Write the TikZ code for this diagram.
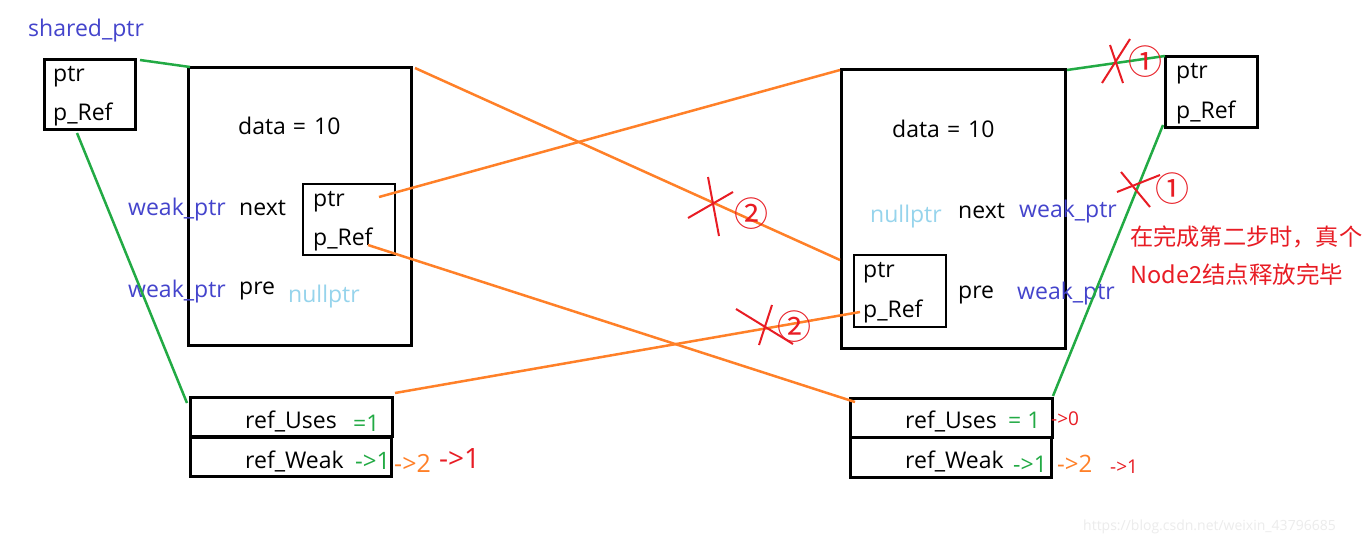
\documentclass[tikz,border=0pt]{standalone}
\usepackage{fontspec}
\setmainfont{Open Sans}
\newfontfamily\cjk{Noto Sans CJK SC}
\definecolor{wblue}{RGB}{68,68,204}
\definecolor{nblue}{RGB}{150,212,236}
\definecolor{lgreen}{RGB}{34,170,68}
\definecolor{lorange}{RGB}{255,128,40}
\definecolor{lred}{RGB}{232,28,36}
\definecolor{wmark}{RGB}{236,236,236}
\begin{document}
\begin{tikzpicture}[x=1pt,y=-1pt,
  box/.style={draw=black,line width=3pt,inner sep=0,fill=none},
  ibox/.style={draw=black,line width=2.5pt,inner sep=0},
  lbl/.style={inner sep=0,anchor=base west,font=\fontsize{23}{27}\selectfont},
  wp/.style={lbl,text=wblue},
  np/.style={lbl,text=nblue},
  gline/.style={draw=lgreen,line width=2.5pt},
  oline/.style={draw=lorange,line width=2.5pt},
  xmark/.style={draw=lred,line width=2pt},
  circ/.style={inner sep=0,anchor=center,text=lred,font=\cjk\fontsize{34}{38}\selectfont}]
\useasboundingbox[fill=white] (0,0) rectangle (1364,544);

% boxes
\node[box,minimum width=91pt,minimum height=70pt] (lsp) at (90,94.5) {};
\node[box,minimum width=223pt,minimum height=278pt] (n1) at (300,206.5) {};
\node[ibox,minimum width=92pt,minimum height=71pt] (n1in) at (349,219.5) {};
\node[box,minimum width=202pt,minimum height=39.5pt] (lref1) at (291.5,417.2) {};
\node[box,minimum width=201pt,minimum height=39.5pt] (lref2) at (291,456.8) {};
\node[box,minimum width=224pt,minimum height=279pt] (n2) at (953,208.5) {};
\node[ibox,minimum width=92pt,minimum height=72pt] (n2in) at (900,291) {};
\node[box,minimum width=92pt,minimum height=71pt] (rsp) at (1211.5,92) {};
\node[box,minimum width=202pt,minimum height=39pt] (rref1) at (951.5,418) {};
\node[box,minimum width=201pt,minimum height=40pt] (rref2) at (951,457.5) {};

% texts left
\node[wp] (tsp) at (28,36) {shared\_ptr};
\node[lbl] (lspa) at (53,81) {ptr};
\node[lbl] (lspb) at (53,120) {p\_Ref};
\node[lbl] (d1) at (238,134) {data\hspace{7pt}=\hspace{8pt}10};
\node[wp] (w1a) at (128,215) {weak\_ptr};
\node[lbl] (nx1) at (239,215) {next};
\node[lbl] (n1a) at (313,206) {ptr};
\node[lbl] (n1b) at (313,245) {p\_Ref};
\node[wp] (w1b) at (128,297) {weak\_ptr};
\node[lbl] (pr1) at (239,294) {pre};
\node[np] (nl1) at (288,302) {nullptr};
\node[lbl] (u1) at (245,428) {ref\_Uses};
\node[lbl,text=lgreen] (u1v) at (353,431) {=1};
\node[lbl] (wk1) at (245,468) {ref\_Weak};
\node[lbl,text=lgreen,font=\fontsize{24}{28}\selectfont] (wk1a) at (355,469) {->1};
\node[lbl,text=lorange,font=\fontsize{25}{28}\selectfont] (wk1b) at (394,472) {->2};
\node[lbl,text=lred,font=\fontsize{28}{32}\selectfont] (wk1c) at (439,468) {->1};

% texts right
\node[lbl] (d2) at (892,137) {data\hspace{7pt}=\hspace{8pt}10};
\node[np] (nl2) at (870,222) {nullptr};
\node[lbl] (nx2) at (958,218) {next};
\node[wp] (w2a) at (1019,217) {weak\_ptr};
\node[lbl] (n2a) at (863,277) {ptr};
\node[lbl] (n2b) at (863,317) {p\_Ref};
\node[lbl] (pr2) at (958,298) {pre};
\node[wp] (w2b) at (1017,299) {weak\_ptr};
\node[lbl] (rspa) at (1176,78) {ptr};
\node[lbl] (rspb) at (1176,118) {p\_Ref};
\node[lbl] (u2) at (905,428) {ref\_Uses};
\node[lbl,text=lgreen] (u2v) at (1008,428) {= 1};
\node[lbl,text=lred,font=\fontsize{19}{22}\selectfont] (u2w) at (1051,425) {->0};
\node[lbl] (wk2) at (905,468) {ref\_Weak};
\node[lbl,text=lgreen] (wk2a) at (1013,472) {->1};
\node[lbl,text=lorange,font=\fontsize{24}{27}\selectfont] (wk2b) at (1057,472) {->2};
\node[lbl,text=lred,font=\fontsize{19}{22}\selectfont] (wk2c) at (1110,473) {->1};

\node[lbl,text=lred,font=\cjk\fontsize{23.2}{28}\selectfont] (cn1) at (1130,245) {在完成第二步时，真个};
\node[lbl,text=lred,font=\cjk\fontsize{23.5}{28}\selectfont] (cn2) at (1130,283) {Node2结点释放完毕};

\node[inner sep=0,anchor=base west,text=wmark,font=\fontsize{14}{16}\selectfont] (wm) at (1083,530) {https://blog.csdn.net/weixin\_43796685};

% connector end points
\coordinate (ga1) at (140,60);  \coordinate (gb1) at (190,67);
\coordinate (ga2) at (77,133);  \coordinate (gb2) at (187,403);
\coordinate (ga3) at (1067,70); \coordinate (gb3) at (1165,56);
\coordinate (ga4) at (1163,125);\coordinate (gb4) at (1053,396);
\coordinate (oa1) at (415,68);  \coordinate (ob1) at (840,260);
\coordinate (oa2) at (379,197); \coordinate (ob2) at (840,70);
\coordinate (oa3) at (368,245); \coordinate (ob3) at (855,402);
\coordinate (oa4) at (395,393); \coordinate (ob4) at (860,312);

\draw[gline] (ga1) -- (gb1);
\draw[gline] (ga2) -- (gb2);
\draw[gline] (ga3) -- (gb3);
\draw[gline] (ga4) -- (gb4);
\draw[oline] (oa1) -- (ob1);
\draw[oline] (oa2) -- (ob2);
\draw[oline] (oa3) -- (ob3);
\draw[oline] (oa4) -- (ob4);

% red crosses
\coordinate (xa1) at (1110,45); \coordinate (xb1) at (1123,83);
\coordinate (xc1) at (1102,83); \coordinate (xd1) at (1130,39);
\draw[xmark] (xa1) -- (xb1); \draw[xmark] (xc1) -- (xd1);
\node[circ] (c1) at (1145,62) {①};
\coordinate (xa2) at (1121,172); \coordinate (xb2) at (1150,207);
\coordinate (xc2) at (1117,192); \coordinate (xd2) at (1160,175);
\draw[xmark] (xa2) -- (xb2); \draw[xmark] (xc2) -- (xd2);
\node[circ] (c2) at (1172,189) {①};
\coordinate (xa3) at (708,177); \coordinate (xb3) at (719,236);
\coordinate (xc3) at (688,218); \coordinate (xd3) at (733,192);
\draw[xmark] (xa3) -- (xb3); \draw[xmark] (xc3) -- (xd3);
\node[circ] (c3) at (751,214) {②};
\coordinate (xa4) at (772,305); \coordinate (xb4) at (759,345);
\coordinate (xc4) at (736,309); \coordinate (xd4) at (793,344);
\draw[xmark] (xa4) -- (xb4); \draw[xmark] (xc4) -- (xd4);
\node[circ] (c4) at (794,327) {②};
\end{tikzpicture}
\end{document}
